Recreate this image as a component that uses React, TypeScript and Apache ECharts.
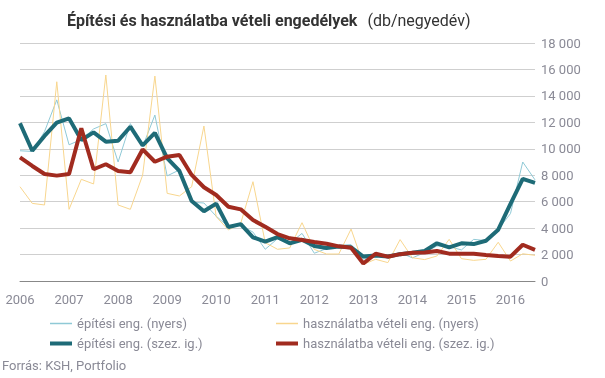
import React, { useEffect, useRef } from "react";
import * as echarts from "echarts";

const years = ["2006", "2007", "2008", "2009", "2010", "2011", "2012", "2013", "2014", "2015", "2016"];
const quarters = ["I", "II", "III", "IV"];
const categories: string[] = [];
years.forEach((y) => quarters.forEach((q) => categories.push(y + "." + q)));
categories.length = 43; // 2006.I – 2016.III

const epitesiNyers = [
  9850, 9800, 11300, 13700, 10300, 10700, 11500, 11900, 9000, 11900, 10150,
  12550, 7950, 8400, 5950, 5900, 4900, 4100, 4200, 3700, 2400, 3200, 2850,
  3600, 2100, 2450, 2700, 2750, 1650, 1900, 1900, 2150, 1750, 2150, 2650,
  2600, 2350, 3150, 3050, 3900, 5100, 9000, 7650,
];
const hasznNyers = [
  7130, 5870, 5750, 15070, 5420, 7690, 7340, 15580, 5750, 5420, 8000,
  15500, 6630, 6430, 7130, 11720, 4860, 3860, 4360, 7510, 2900, 2400, 2500,
  4410, 2390, 2040, 2040, 3930, 1260, 1640, 1390, 3130, 1760, 1620, 1890,
  3150, 1690, 1560, 1640, 2930, 1510, 2060, 1940,
];
const epitesiSzez = [
  11930, 9850, 10970, 11970, 12300, 10660, 11240, 10540, 10610, 11670, 10250,
  11200, 9300, 8320, 6050, 5270, 5850, 4080, 4300, 3300, 2970, 3320, 2850,
  3120, 2650, 2500, 2600, 2550, 1850, 1920, 1850, 2030, 2140, 2270, 2850,
  2550, 2850, 2790, 3040, 3880, 5840, 7720, 7420,
];
const hasznSzez = [
  9350, 8700, 8090, 7970, 8090, 11550, 8450, 8830, 8320, 8220, 9950,
  9020, 9400, 9530, 8020, 7090, 6500, 5620, 5420, 4610, 4100, 3550, 3230,
  3100, 2950, 2820, 2620, 2520, 1320, 2060, 1840, 2030, 2140, 2150, 2270,
  2070, 2070, 2060, 1970, 1890, 1840, 2740, 2360,
];

const seriesNames = [
  "építési eng. (nyers)",
  "használatba vételi eng. (nyers)",
  "építési eng. (szez. ig.)",
  "használatba vételi eng. (szez. ig.)",
];
const seriesColors = ["#8fc9d6", "#f8d68e", "#1e6b77", "#a12b1f"];
const seriesWidths = [1, 1, 4, 4];

export default function App() {
  const ref = useRef<HTMLDivElement>(null);
  useEffect(() => {
    if (!ref.current) return;
    const chart = echarts.init(ref.current, undefined, { renderer: "svg" });
    const font = "Roboto, 'Liberation Sans', sans-serif";
    const legendText = { color: "#8a8a96", fontSize: 13, fontFamily: font };
    const legendPos = [
      { left: 45, top: 312 },
      { left: 271, top: 312 },
      { left: 45, top: 332 },
      { left: 271, top: 332 },
    ];
    chart.setOption({
      animation: false,
      title: {
        left: 62,
        top: 6,
        text: "{b|Építési és használatba vételi engedélyek}  {n|(db/negyedév)}",
        textStyle: {
          rich: {
            b: { fontSize: 16, fontWeight: "bold", color: "#333", fontFamily: font },
            n: { fontSize: 16, fontWeight: "normal", color: "#333", fontFamily: font },
          },
        },
      },
      grid: { left: 20, right: 70, top: 43, bottom: 97 },
      legend: seriesNames.map((name, i) => ({
        ...legendPos[i],
        icon: "rect",
        itemWidth: 22,
        itemHeight: seriesWidths[i] === 1 ? 1.5 : 4,
        textStyle: legendText,
        data: [name],
      })),
      graphic: [
        {
          type: "text",
          left: 2,
          top: 359,
          style: { text: "Forrás: KSH, Portfolio", fill: "#8a8a96", fontSize: 13, fontFamily: font },
        },
      ],
      xAxis: {
        type: "category",
        boundaryGap: false,
        data: categories,
        axisLine: { lineStyle: { color: "#888", width: 1 } },
        axisTick: { show: false },
        axisLabel: {
          interval: 3,
          color: "#8a8a96",
          fontSize: 13,
          fontFamily: font,
          margin: 12,
          formatter: (v: string) => v.split(".")[0],
        },
      },
      yAxis: {
        type: "value",
        position: "right",
        min: 0,
        max: 18000,
        interval: 2000,
        axisLine: { show: false },
        axisTick: { show: false },
        splitLine: { lineStyle: { color: "#cfcfcf", width: 1 } },
        axisLabel: {
          color: "#8a8a96",
          fontSize: 13,
          fontFamily: font,
          margin: 6,
          formatter: (v: number) => String(v).replace(/\B(?=(\d{3})+(?!\d))/g, " "),
        },
      },
      series: [epitesiNyers, hasznNyers, epitesiSzez, hasznSzez].map((data, i) => ({
        name: seriesNames[i],
        type: "line",
        data,
        symbol: "none",
        lineStyle: { color: seriesColors[i], width: seriesWidths[i] },
        itemStyle: { color: seriesColors[i] },
      })),
    });
    return () => chart.dispose();
  }, []);
  return <div ref={ref} style={{ width: 605, height: 378, position: "fixed", left: 0, top: 0 }} />;
}
